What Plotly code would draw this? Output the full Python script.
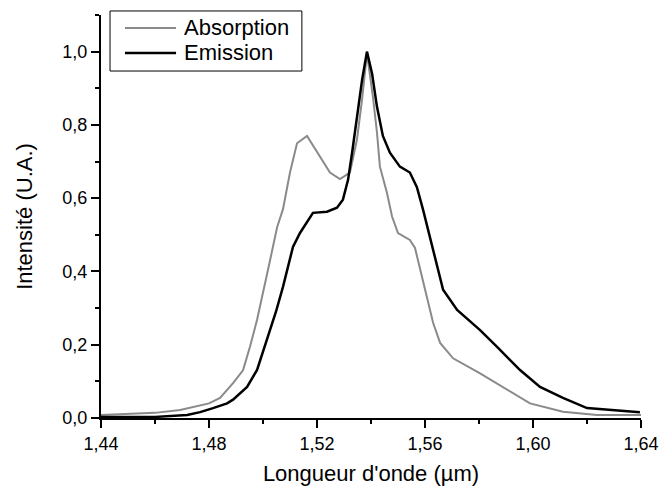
import plotly.graph_objects as go

abs_x = [1.4400, 1.4600, 1.4693, 1.4800, 1.4841, 1.4889, 1.4926, 1.4952, 1.4978, 1.5000,
         1.5026, 1.5052, 1.5074, 1.5100, 1.5126, 1.5163, 1.5211, 1.5248, 1.5285, 1.5322,
         1.5348, 1.5367, 1.5385, 1.5407, 1.5422, 1.5433, 1.5459, 1.5478, 1.5500, 1.5544,
         1.5563, 1.5593, 1.5630, 1.5656, 1.5704, 1.5804, 1.5904, 1.5989, 1.6111, 1.6237, 1.6400]
abs_y = [0.008, 0.014, 0.022, 0.040, 0.055, 0.095, 0.130, 0.195, 0.268, 0.340,
         0.430, 0.520, 0.570, 0.670, 0.750, 0.770, 0.713, 0.670, 0.652, 0.670,
         0.760, 0.870, 0.995, 0.877, 0.780, 0.686, 0.615, 0.550, 0.505, 0.486,
         0.464, 0.370, 0.260, 0.205, 0.163, 0.122, 0.077, 0.040, 0.017, 0.008, 0.008]

em_x = [1.4400, 1.4600, 1.4719, 1.4767, 1.4815, 1.4867, 1.4889, 1.4941, 1.4978, 1.5015,
        1.5048, 1.5074, 1.5100, 1.5111, 1.5137, 1.5163, 1.5185, 1.5237, 1.5274, 1.5296,
        1.5315, 1.5330, 1.5348, 1.5367, 1.5385, 1.5404, 1.5422, 1.5444, 1.5470, 1.5507,
        1.5544, 1.5570, 1.5593, 1.5630, 1.5667, 1.5719, 1.5804, 1.5867, 1.5952, 1.6026,
        1.6111, 1.6200, 1.6296, 1.6396]
em_y = [0.003, 0.003, 0.008, 0.016, 0.027, 0.040, 0.050, 0.085, 0.131, 0.213,
        0.290, 0.358, 0.430, 0.467, 0.505, 0.533, 0.560, 0.563, 0.574, 0.596,
        0.650, 0.724, 0.822, 0.923, 1.000, 0.940, 0.850, 0.770, 0.724, 0.686,
        0.670, 0.630, 0.568, 0.460, 0.350, 0.295, 0.240, 0.194, 0.131, 0.085,
        0.055, 0.027, 0.022, 0.016]

series_names = ["Absorption", "Emission"]
series_colors = ["#8a8a8a", "#000000"]
series_widths = [2, 2.5]

FONT = "Liberation Sans, Arial"

fig = go.Figure()
fig.add_trace(go.Scatter(x=abs_x, y=abs_y, mode="lines", name=series_names[0],
                         line=dict(color=series_colors[0], width=series_widths[0]),
                         showlegend=False))
fig.add_trace(go.Scatter(x=em_x, y=em_y, mode="lines", name=series_names[1],
                         line=dict(color=series_colors[1], width=series_widths[1]),
                         showlegend=False))

axis_common = dict(showline=True, linecolor="black", linewidth=2, ticks="outside",
                   tickwidth=2, ticklen=8, tickcolor="black", showgrid=False, zeroline=False,
                   tickfont=dict(family=FONT, size=18, color="black"),
                   title_font=dict(family=FONT, size=22, color="black"),
                   mirror=False, automargin=False)

# custom legend box (paper coordinates)
shapes = [dict(type="rect", xref="paper", yref="paper", x0=0.0167, x1=0.372, y0=0.861, y1=1.010,
               line=dict(color="black", width=1), fillcolor="white", layer="above")]
annotations = []
row_y = [0.968, 0.906]
for i in range(2):
    shapes.append(dict(type="line", xref="paper", yref="paper", x0=0.0444, x1=0.139,
                       y0=row_y[i], y1=row_y[i],
                       line=dict(color=series_colors[i], width=series_widths[i]), layer="above"))
    annotations.append(dict(text=series_names[i], xref="paper", yref="paper", x=0.150, y=row_y[i],
                            xanchor="left", yanchor="middle", showarrow=False,
                            font=dict(family=FONT, size=22, color="black")))

fig.update_layout(
    width=662, height=486,
    margin=dict(l=101, r=21, t=15, b=68),
    paper_bgcolor="white", plot_bgcolor="white",
    separators=", ",
    font=dict(family=FONT, color="black"),
    xaxis=dict(range=[1.44, 1.64], dtick=0.04, tick0=1.44, tickformat=".2f",
               title=dict(text="Longueur d'onde (µm)", standoff=14),
               minor=dict(dtick=0.02, ticks="outside", ticklen=4, tickwidth=2, tickcolor="black"),
               **axis_common),
    yaxis=dict(range=[0, 1.1], dtick=0.2, tick0=0, tickformat=".1f",
               title=dict(text="Intensité (U.A.)", standoff=24),
               minor=dict(dtick=0.1, ticks="outside", ticklen=4, tickwidth=2, tickcolor="black"),
               **axis_common),
    shapes=shapes,
    annotations=annotations,
    showlegend=False,
)

fig.write_html("out.html", config={"displayModeBar": False},
               post_script="document.body.style.margin='0';document.body.style.overflow='hidden';")
